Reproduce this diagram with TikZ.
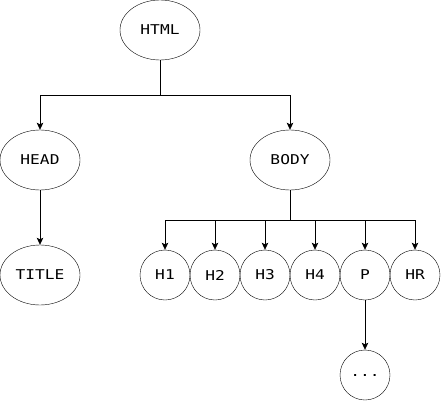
\documentclass[tikz,border=0pt]{standalone}
\usepackage{fontspec}
\setmonofont[FakeStretch=1.2]{DejaVu Sans Mono}
\usetikzlibrary{arrows.meta,shapes.geometric}
\begin{document}
\begin{tikzpicture}[x=1pt,y=-1pt,
  every node/.style={font=\ttfamily\fontsize{13.5}{15}\selectfont, inner sep=0pt},
  oval/.style={draw, ellipse, minimum width=80pt, minimum height=60pt},
  round/.style={draw, circle, minimum size=50pt},
  link/.style={line width=0.8pt},
  arr/.style={link, -{Stealth[length=7pt,width=6.5pt,inset=1.5pt]}}]
\useasboundingbox (0,0) rectangle (441,401);
\node[oval] (html) at (160,30) {HTML};
\node[oval] (head) at (40,160) {HEAD};
\node[oval] (body) at (290,160) {BODY};
\node[oval] (title) at (40,275) {TITLE};
\foreach \n/\t [count=\i from 0] in {h1/H1,h2/H2,h3/H3,h4/H4,p/P,hr/HR}
  \node[round] (\n) at (165+50*\i,275) {\t};
\node[round] (more) at (365,375) {...};
% top level split
\coordinate (j0) at (160,95);
\draw[link] (html.south) -- (j0);
\draw[arr] (j0) -| (head.north);
\draw[arr] (j0) -| (body.north);
\draw[arr] (head.south) -- (title.north);
% body children
\coordinate (j1) at (290,220);
\draw[link] (body.south) -- (j1);
\foreach \n in {h1,h2,h3,h4,p,hr}
  \draw[arr] (j1) -| (\n.north);
\draw[arr] (p.south) -- (more.north);
\end{tikzpicture}
\end{document}
